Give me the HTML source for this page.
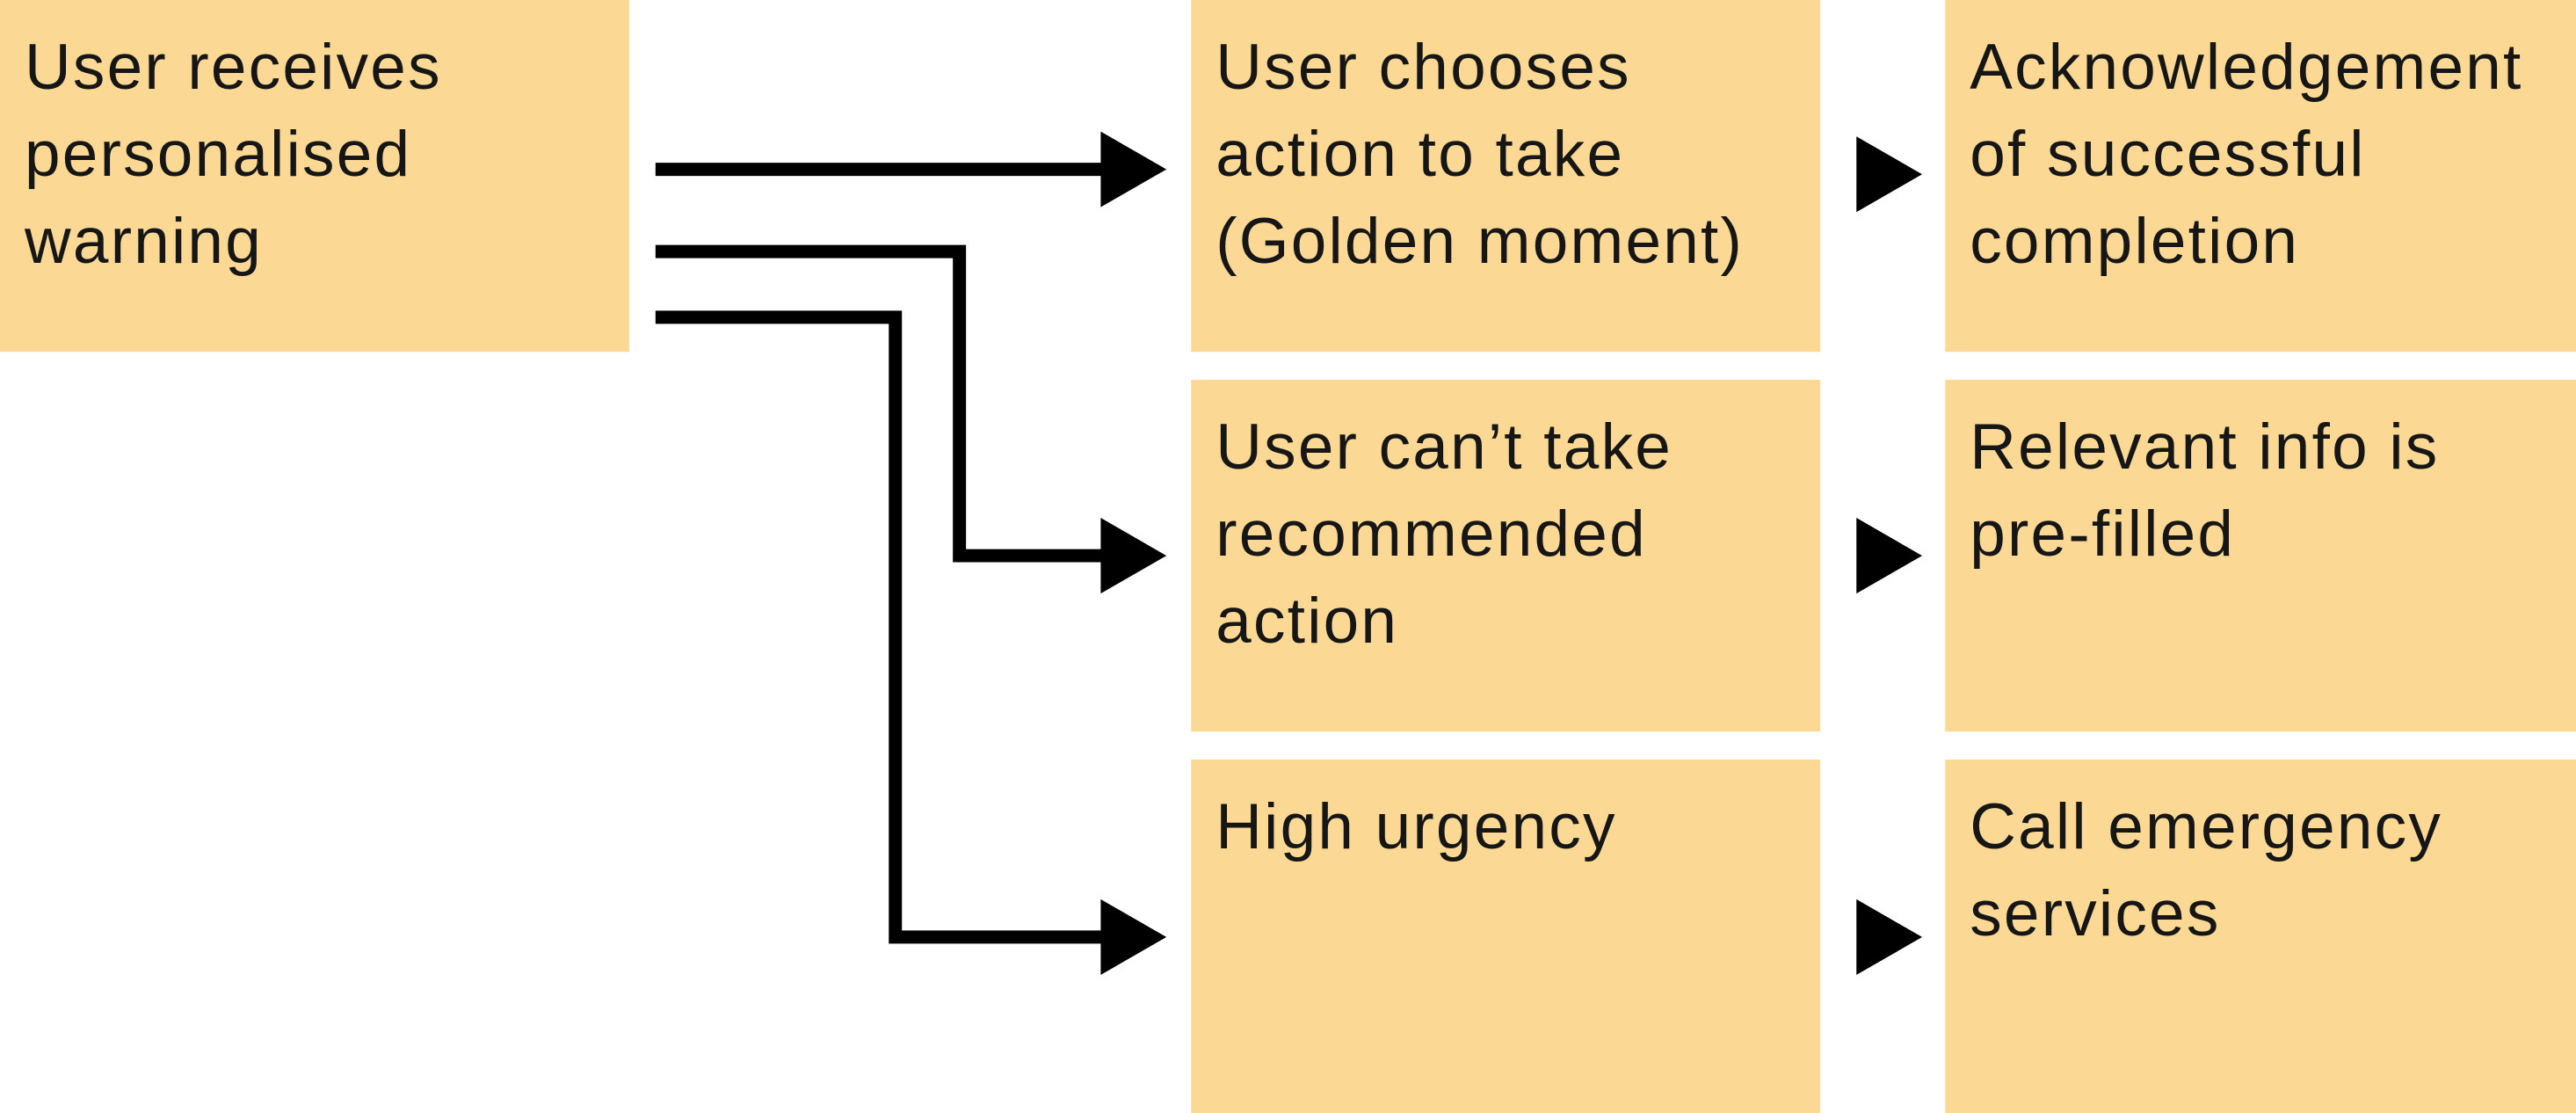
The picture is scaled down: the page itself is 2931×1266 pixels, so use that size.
<!DOCTYPE html>
<html><head><meta charset="utf-8"><style>
html,body{margin:0;padding:0;background:#fff;}
svg{display:block;}
text{font-family:"Liberation Sans",sans-serif;font-size:39px;letter-spacing:1.2px;fill:#161616;}
</style></head><body>
<svg width="2931" height="1266" viewBox="0 0 1568 677" preserveAspectRatio="none" xmlns="http://www.w3.org/2000/svg">
<rect width="1568" height="677" fill="#fff"/>
<g fill="#fbd994">
<rect x="0" y="0" width="383" height="214"/>
<rect x="725" y="0" width="383" height="214"/>
<rect x="725" y="231" width="383" height="214"/>
<rect x="725" y="462" width="383" height="215"/>
<rect x="1184" y="0" width="384" height="214"/>
<rect x="1184" y="231" width="384" height="214"/>
<rect x="1184" y="462" width="384" height="215"/>
</g>
<g fill="none" stroke="#000" stroke-width="8">
<polyline points="399,103 672,103"/>
<polyline points="399,153 584,153 584,338 672,338"/>
<polyline points="399,193 545,193 545,570 672,570"/>
</g>
<g fill="#000">
<polygon points="670,80 710,103 670,126"/>
<polygon points="670,315 710,338 670,361"/>
<polygon points="670,547 710,570 670,593"/>
<polygon points="1130,83 1170,106 1130,129"/>
<polygon points="1130,315 1170,338 1130,361"/>
<polygon points="1130,547 1170,570 1130,593"/>
</g>
<text x="15" y="54">User receives</text>
<text x="15" y="107">personalised</text>
<text x="15" y="160">warning</text>
<text x="740" y="54">User chooses</text>
<text x="740" y="107">action to take</text>
<text x="740" y="160">(Golden moment)</text>
<text x="740" y="285">User can’t take</text>
<text x="740" y="338">recommended</text>
<text x="740" y="391">action</text>
<text x="740" y="516">High urgency</text>
<text x="1199" y="54">Acknowledgement</text>
<text x="1199" y="107">of successful</text>
<text x="1199" y="160">completion</text>
<text x="1199" y="285">Relevant info is</text>
<text x="1199" y="338">pre-filled</text>
<text x="1199" y="516">Call emergency</text>
<text x="1199" y="569">services</text>
</svg>
</body></html>
